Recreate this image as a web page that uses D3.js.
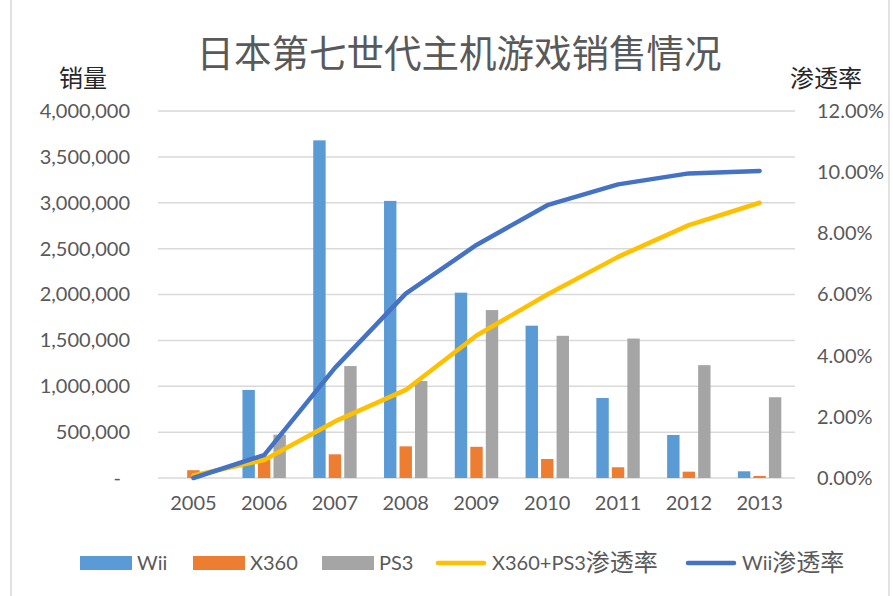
<!DOCTYPE html>
<html><head><meta charset="utf-8">
<script src="https://cdn.jsdelivr.net/npm/d3@7"></script>
<style>body{margin:0;background:#fff}svg{display:block}</style>
</head><body>
<svg id="c" width="893" height="596"></svg>
<script>
const years = ["2005","2006","2007","2008","2009","2010","2011","2012","2013"];
const wii  = [0, 960000, 3680000, 3020000, 2020000, 1660000, 872000, 469000, 73000];
const x360 = [85000, 200000, 258000, 345000, 340000, 207000, 117000, 69000, 22000];
const ps3  = [0, 472000, 1220000, 1057000, 1830000, 1550000, 1520000, 1230000, 880000];
const penOther = [0.0008, 0.0059, 0.0185, 0.0288, 0.0466, 0.0600, 0.0723, 0.0827, 0.0900];
const penWii   = [0, 0.0075, 0.0360, 0.0603, 0.0762, 0.0892, 0.0960, 0.0996, 0.1004];
const leftTicks = [0, 500000, 1000000, 1500000, 2000000, 2500000, 3000000, 3500000, 4000000];
const rightTicks = [0, 0.02, 0.04, 0.06, 0.08, 0.10, 0.12];
const barSeries = ["Wii","X360","PS3"];
const lineSeries = ["X360+PS3渗透率","Wii渗透率"];
const title = "日本第七世代主机游戏销售情况";
const leftTitle = "销量", rightTitle = "渗透率";

const colors = {Wii:"#5B9BD5", X360:"#ED7D31", PS3:"#A5A5A5", "X360+PS3渗透率":"#FFC000", "Wii渗透率":"#4472C4"};
const FONT = "Lato, 'Noto Sans CJK SC', sans-serif";
const CJK = "'Noto Sans CJK SC', sans-serif";
const svg = d3.select("#c");
const L = 158, R = 795, T = 111, B = 478;

svg.append("line").attr("x1",11).attr("x2",11).attr("y1",0).attr("y2",596).attr("stroke","#d9d9d9").attr("stroke-width",1.5);
svg.append("line").attr("x1",889).attr("x2",889).attr("y1",0).attr("y2",596).attr("stroke","#d9d9d9").attr("stroke-width",1.5);

const x = d3.scaleBand().domain(years).range([L,R]).padding(0);
const inner = d3.scaleBand().domain(barSeries).range([(x.bandwidth()-46.5)/2,(x.bandwidth()+46.5)/2]).paddingInner(0.2).paddingOuter(0.1);
const yL = d3.scaleLinear().domain([0,4000000]).range([B,T]);
const yR = d3.scaleLinear().domain([0,0.12]).range([B,T]);

// gridlines
svg.append("g").selectAll("line").data(leftTicks).join("line")
  .attr("x1",L).attr("x2",R).attr("y1",d=>yL(d)).attr("y2",d=>yL(d))
  .attr("stroke","#d9d9d9").attr("stroke-width",1.5);

// left axis
const fmt = d3.format(",");
const axL = d3.axisLeft(yL).tickValues(leftTicks).tickSize(0).tickPadding(0).tickFormat(d=>d===0?"-":fmt(d));
const gL = svg.append("g").attr("transform",`translate(130,0)`).call(axL);
gL.select(".domain").remove();
gL.selectAll("text").attr("font-family",FONT).attr("font-size",20).attr("fill","#595959").attr("dx", d=>d===0?-9:0);

const axR = d3.axisRight(yR).tickValues(rightTicks).tickSize(0).tickPadding(0).tickFormat(d3.format(".2%"));
const gR = svg.append("g").attr("transform",`translate(817,0)`).call(axR);
gR.select(".domain").remove();
gR.selectAll("text").attr("font-family",FONT).attr("font-size",20).attr("fill","#595959");

const axB = d3.axisBottom(x).tickSize(0).tickPadding(0);
const gB = svg.append("g").attr("transform",`translate(0,${B+17})`).call(axB);
gB.select(".domain").remove();
gB.selectAll("text").attr("font-family",FONT).attr("font-size",20).attr("fill","#595959").attr("dy","0.75em");

// bars
const barData = {Wii:wii, X360:x360, PS3:ps3};
barSeries.forEach(s=>{
  svg.append("g").selectAll("rect").data(years.map((y,i)=>({y,v:barData[s][i]}))).join("rect")
    .attr("x",d=>x(d.y)+inner(s)).attr("width",inner.bandwidth())
    .attr("y",d=>yL(d.v)).attr("height",d=>B-yL(d.v))
    .attr("fill",colors[s]);
});

// lines
const lineData = {"X360+PS3渗透率":penOther, "Wii渗透率":penWii};
const lineGen = d3.line().x((d,i)=>x(years[i])+x.bandwidth()/2).y(d=>yR(d));
lineSeries.forEach(s=>{
  svg.append("path").datum(lineData[s]).attr("d",lineGen)
    .attr("fill","none").attr("stroke",colors[s]).attr("stroke-width",4.5)
    .attr("stroke-linecap","round").attr("stroke-linejoin","round");
});

// titles
svg.append("text").attr("x",459).attr("y",67).attr("text-anchor","middle")
  .attr("font-family",CJK).attr("font-size",37.5).attr("fill","#595959").text(title);
svg.append("text").attr("x",83).attr("y",87).attr("text-anchor","middle")
  .attr("font-family",CJK).attr("font-size",24).attr("fill","#262626").text(leftTitle);
svg.append("text").attr("x",826).attr("y",87).attr("text-anchor","middle")
  .attr("font-family",CJK).attr("font-size",24).attr("fill","#262626").text(rightTitle);

// legend
const legendItems = [
  {name:"Wii", type:"bar", x:80},
  {name:"X360", type:"bar", x:193},
  {name:"PS3", type:"bar", x:322},
  {name:"X360+PS3渗透率", type:"line", x:435},
  {name:"Wii渗透率", type:"line", x:685}
];
const lg = svg.append("g");
legendItems.forEach(it=>{
  if(it.type==="bar"){
    lg.append("rect").attr("x",it.x).attr("y",556).attr("width",52).attr("height",14).attr("fill",colors[it.name]);
  } else {
    lg.append("line").attr("x1",it.x+3).attr("x2",it.x+49).attr("y1",563).attr("y2",563)
      .attr("stroke",colors[it.name]).attr("stroke-width",4.5).attr("stroke-linecap","round");
  }
  const t = lg.append("text").attr("x",it.x+57).attr("y",563).attr("dy","0.35em")
    .attr("font-family",FONT).attr("font-size",20).attr("fill","#595959");
  const m = it.name.match(/^([A-Za-z0-9+]+)(.*)$/);
  t.append("tspan").text(m[1]);
  if(m[2]) t.append("tspan").attr("font-family",CJK).attr("font-size",24).attr("dy",1).text(m[2]);
});
</script>
</body></html>
